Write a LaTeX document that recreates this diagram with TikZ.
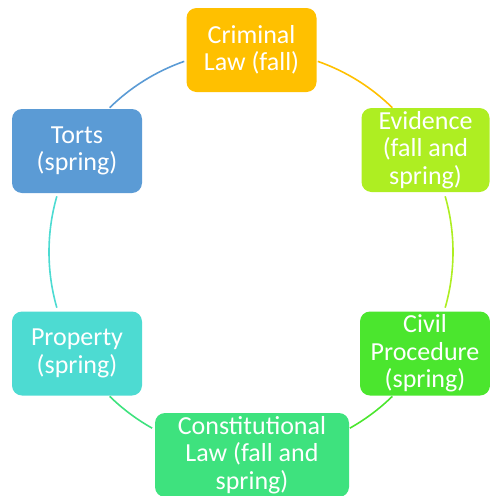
\documentclass[tikz,border=0pt]{standalone}
\usepackage{fontspec}
\setmainfont{Carlito}
\definecolor{cCrim}{HTML}{FFC000}
\definecolor{cEvid}{HTML}{AEEE22}
\definecolor{cCivil}{HTML}{4BE62E}
\definecolor{cConst}{HTML}{3EE27E}
\definecolor{cProp}{HTML}{4DDBD2}
\definecolor{cTorts}{HTML}{5B9BD5}
\begin{document}
\begin{tikzpicture}[x=1pt,y=-1pt,
  course/.style={rounded corners=10pt, text=white, align=center,
    minimum width=130pt, minimum height=84pt, inner sep=0pt,
    font=\fontsize{26}{27.5}\selectfont},
  ring/.style={line width=1.6pt}]
\useasboundingbox (0,0) rectangle (490,496);
\coordinate (ctr) at (251,252);
\node[course, fill=cCrim] (crim) at (251.5,50) {Criminal\\Law (fall)};
\node[course, fill=cEvid, minimum width=128pt] (evid) at (425.5,150) {Evidence\\(fall and\\spring)};
\node[course, fill=cCivil] (civil) at (425,353.5) {Civil\\Procedure\\(spring)};
\node[course, fill=cConst, minimum width=194pt] (const) at (252,455) {Constitutional\\Law (fall and\\spring)};
\node[course, fill=cProp] (prop) at (77,353.5) {Property\\(spring)};
\node[course, fill=cTorts] (torts) at (77,151) {Torts\\(spring)};
\draw[ring, cTorts] (ctr) ++(-134.4:202) arc[start angle=-134.4, end angle=-109.3, radius=202];
\draw[ring, cCrim] (ctr) ++(-70.7:202) arc[start angle=-70.7, end angle=-45.6, radius=202];
\draw[ring, cEvid] (ctr) ++(-16:202) arc[start angle=-16, end angle=16, radius=202];
\draw[ring, cCivil] (ctr) ++(45.6:202) arc[start angle=45.6, end angle=60.7, radius=202];
\draw[ring, cConst] (ctr) ++(119.3:202) arc[start angle=119.3, end angle=134.4, radius=202];
\draw[ring, cProp] (ctr) ++(164:202) arc[start angle=164, end angle=196, radius=202];
\end{tikzpicture}
\end{document}
